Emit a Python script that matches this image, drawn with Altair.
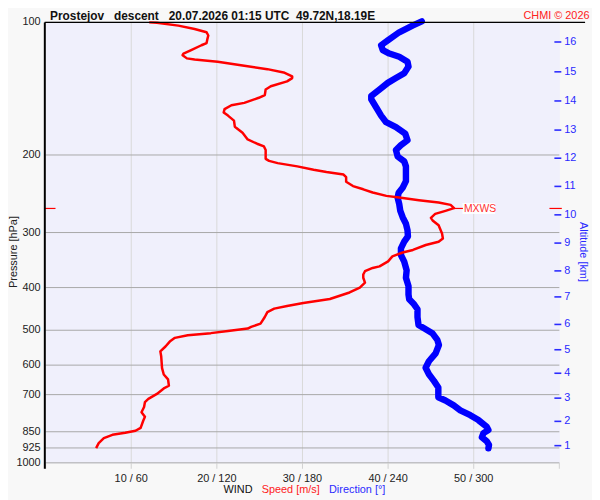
import altair as alt
import pandas as pd

FONT = "Liberation Sans"

# ---- wind speed profile (m/s) against pressure (hPa)
speed_p = [100, 100.2, 101.7, 103.5, 105.3, 107.1, 109.0, 111.4, 112.7, 115.6,
           117.7, 118.7, 120.7, 121.4, 122.8, 125.5, 127.7, 129.9, 132.6, 133.8,
           136.1, 139.6, 142.0, 146.2, 148.3, 152.3, 154.2, 157.4, 160.1, 162.8,
           167.1, 172.5, 178.1, 184.4, 188.6, 191.3, 194.9, 204.1, 206.3, 208.7,
           212.3, 216.0, 218.6, 221.6, 224.6, 230.1, 235.3, 239.3, 243.4, 247.7,
           249.8, 253.3, 256.4, 259.6, 264.1, 267.8, 272.2, 277.8, 281.6, 288.9,
           301.6, 309.4, 314.7, 320.2, 328.6, 333.0, 339.9, 348.8, 358.0, 361.0,
           367.2, 373.7, 380.0, 389.9, 400.0, 410.4, 424.7, 433.5, 440.6, 446.6,
           454.8, 466.6, 483.0, 491.2, 495.5, 502.0, 507.6, 513.4, 520.3, 530.5,
           544.3, 558.4, 573.0, 609.3, 630.0, 646.4, 668.3, 677.7, 697.4, 715.7,
           728.1, 747.0, 767.6, 786.2, 802.6, 832.8, 845.7, 854.5, 863.8, 878.6,
           901.8, 926]
speed_ms = [12.1, 13.0, 15.5, 17.4, 18.8, 19.0, 18.9, 18.8, 18.2, 17.0,
            16.1, 16.0, 16.5, 17.4, 20.1, 23.2, 25.9, 27.8, 28.8, 28.8,
            28.2, 26.3, 25.7, 25.6, 24.9, 23.2, 21.7, 20.9, 20.8, 21.3,
            22.0, 22.1, 23.0, 23.6, 24.7, 25.5, 25.7, 25.7, 26.1, 27.1,
            29.4, 31.3, 32.8, 34.8, 35.1, 35.1, 35.9, 37.1, 38.2, 39.8,
            41.3, 43.6, 45.9, 47.3, 47.7, 46.7, 45.5, 45.0, 45.2, 45.9,
            46.3, 46.4, 45.9, 44.4, 42.9, 41.7, 40.5, 40.0, 39.0, 38.2,
            37.3, 37.1, 37.1, 37.3, 36.7, 35.5, 33.2, 30.1, 28.2, 26.7,
            25.9, 25.6, 25.1, 24.0, 23.6, 21.3, 19.3, 16.6, 15.1, 14.5,
            14.0, 13.4, 13.5, 13.6, 13.8, 14.3, 14.4, 13.8, 13.0, 12.0,
            11.6, 11.5, 11.2, 11.6, 11.4, 11.1, 10.5, 9.3, 7.8, 6.8,
            6.2, 5.9]

# ---- wind direction profile (deg) against pressure (hPa)
dir_p = [99.5, 101.7, 105.3, 109.9, 112.7, 115.6, 117.7, 119.7, 122.8, 126.0,
         130.4, 133.8, 137.2, 142.0, 147.0, 149.5, 156.0, 162.8, 168.5, 172.9,
         178.9, 185.2, 190.0, 194.9, 201.6, 206.8, 212.3, 219.6, 229.3, 237.3,
         243.6, 250.1, 258.5, 267.5, 276.9, 286.5, 296.3, 306.0, 314.7, 325.8,
         337.4, 349.4, 365.4, 380.0, 397.0, 414.6, 425.4, 436.6, 448.0, 466.6,
         486.3, 494.6, 507.6, 525.6, 540.0, 564.4, 587.9, 608.3, 629.2, 651.4,
         674.2, 709.7, 721.8, 740.5, 759.8, 779.5, 799.8, 828.0, 841.9, 856.0,
         875.0, 893.0, 911.0, 927.0]
dir_deg = [263.6, 257.1, 247.8, 239.8, 235.1, 236.3, 240.9, 247.8, 253.6, 254.3,
           251.3, 245.5, 239.8, 234.0, 228.2, 228.2, 231.7, 235.1, 238.6, 245.5,
           252.0, 253.6, 249.0, 245.5, 246.7, 251.3, 252.5, 252.5, 252.5, 250.2,
           247.4, 246.7, 247.8, 248.5, 250.2, 252.5, 253.6, 253.9, 251.3, 249.0,
           249.0, 251.3, 253.0, 252.5, 254.3, 254.3, 254.8, 258.2, 260.6, 260.6,
           261.3, 265.2, 271.0, 274.5, 275.6, 273.3, 268.6, 266.3, 268.6, 272.1,
           275.2, 275.2, 280.2, 286.0, 290.6, 297.6, 303.3, 309.1, 310.3, 306.8,
           305.7, 309.1, 310.7, 310.3]

# ---- altitude scale (km) on the right, at the pressure of each km
alt_km = [1, 2, 3, 4, 5, 6, 7, 8, 9, 10, 11, 12, 13, 14, 15, 16]
alt_p = [914, 805, 713, 626, 553.6, 485, 420, 366.6, 317, 273.5,
         235.7, 203.4, 175.6, 150.8, 129.5, 110.8]

pressure_ticks = [100, 200, 300, 400, 500, 600, 700, 850, 925, 1000]
speed_ticks = [0, 10, 20, 30, 40, 50, 60]
speed_labels = ["", "10 / 60", "20 / 120", "30 / 180", "40 / 240", "50 / 300", ""]
grid_speeds = [10, 20, 30, 40, 50]

mxws_speed = [47.7]
mxws_p = [264.5]

W, H = 519, 445

speed_df = pd.DataFrame({"p": speed_p, "v": speed_ms, "i": range(len(speed_p))})
dir_df = pd.DataFrame({"p": dir_p, "v": [d / 6 for d in dir_deg], "i": range(len(dir_p))})
alt_df = pd.DataFrame({"p": alt_p, "km": [str(k) for k in alt_km]})
mx_df = pd.DataFrame({"p": mxws_p, "v": mxws_speed})
grid_df = pd.DataFrame({"v": grid_speeds})
xt_df = pd.DataFrame({"v": speed_ticks, "lab": speed_labels})
pt_df = pd.DataFrame({"p": pressure_ticks, "lab": [str(p) for p in pressure_ticks]})
dummy = pd.DataFrame({"a": [0]})

xs = alt.Scale(domain=[0, 60], nice=False, zero=False)
ys = alt.Scale(type="log", domain=[100, 1000], reverse=True, nice=False)

RED = "#ff0000"
BLUE = "#0000ff"
LBLUE = "#2a2aff"


def X(field="v:Q"):
    return alt.X(field, scale=xs, axis=None)


def Y(field="p:Q"):
    return alt.Y(field, scale=ys, axis=None)


# grid and axes drawn as marks
grid_v = alt.Chart(grid_df).mark_rule(color="#d9d9d9", strokeWidth=1).encode(x=X())
grid_h = alt.Chart(pt_df).mark_rule(color="#a8a8a8", strokeWidth=1).encode(y=Y())
y_labels = alt.Chart(pt_df).mark_text(align="right", baseline="middle", fontSize=11, font=FONT,
                                      color="#222222").encode(
    x=alt.value(-5), y=Y(), text="lab:N")
x_ticks = alt.Chart(xt_df).mark_rule(color="#d0d0d0", strokeWidth=1).encode(
    x=X(), y=alt.value(H), y2=alt.value(H + 6))
x_labels = alt.Chart(xt_df).mark_text(align="center", baseline="top", fontSize=11, font=FONT,
                                      color="#222222").encode(
    x=X(), y=alt.value(H + 10), text="lab:N")

dir_line = alt.Chart(dir_df).mark_line(color=BLUE, strokeWidth=6.5, strokeCap="round",
                                       strokeJoin="round").encode(
    x=X(), y=Y(), order="i:Q")

speed_line = alt.Chart(speed_df).mark_line(color=RED, strokeWidth=2.5, strokeJoin="round").encode(
    x=X(), y=Y(), order="i:Q")

mx_base = alt.Chart(mx_df).encode(x=X(), y=Y())
mx_box = mx_base.mark_rect(width=33, height=11, xOffset=25, color="white", opacity=0.9)
mx_conn = mx_base.mark_rect(width=9, height=1.2, xOffset=4.5, color=RED)
mx_text = mx_base.mark_text(text="MXWS", align="left", baseline="middle", dx=10, dy=0.5,
                            fontSize=10.5, font=FONT, color="#ff3030")
mx_left = alt.Chart(mx_df).mark_rule(color=RED, strokeWidth=1.2).encode(
    x=alt.value(-1), x2=alt.value(10), y=Y())
mx_right = alt.Chart(mx_df).mark_rule(color=RED, strokeWidth=1.2).encode(
    x=alt.value(509), x2=alt.value(521.5), y=Y())

alt_ticks = alt.Chart(alt_df).mark_rule(color=LBLUE, strokeWidth=1.6).encode(
    x=alt.value(514), x2=alt.value(521), y=Y())
alt_labels = alt.Chart(alt_df).mark_text(align="left", baseline="middle", fontSize=11,
                                         font=FONT, color=LBLUE).encode(
    x=alt.value(524), y=Y(), text="km:N")

top_line = alt.Chart(dummy).mark_rule(color="black", strokeWidth=1.2).encode(
    x=alt.value(-1), x2=alt.value(545), y=alt.value(0))
left_line = alt.Chart(dummy).mark_rule(color="black", strokeWidth=2).encode(
    x=alt.value(-0.8), y=alt.value(0), y2=alt.value(H + 6))


def label(txt, x, y, **kw):
    return alt.Chart(dummy).mark_text(text=txt, font=FONT, **kw).encode(
        x=alt.value(x), y=alt.value(y))


title = label("Prostejov\u00a0\u00a0\u00a0descent\u00a0\u00a0\u00a020.07.2026 01:15 UTC\u00a0\u00a049.72N,18.19E",
              4.5, -2.5, align="left", baseline="alphabetic", fontSize=12, fontWeight="bold",
              color="#111111")
chmi = label("CHMI \u00a9 2026", 549.5, -3, align="right", baseline="alphabetic", fontSize=11,
             color="#ff2020")
ptitle = label("Pressure [hPa]", -32, 232, align="center", baseline="middle", angle=270,
               fontSize=11, color="#222222")
atitle = label("Altitude [km]", 543, 232, align="center", baseline="middle", angle=90,
               fontSize=11, color=LBLUE)
wind = label("WIND", 179.7, H + 30, align="left", baseline="alphabetic", fontSize=11,
             color="#111111")
spd = label("Speed [m/s]", 218.3, H + 30, align="left", baseline="alphabetic", fontSize=11,
            color="#ff2020")
drc = label("Direction [\u00b0]", 286.3, H + 30, align="left", baseline="alphabetic", fontSize=11,
            color=LBLUE)

chart = alt.layer(
    grid_v, grid_h, x_ticks, x_labels, y_labels,
    dir_line, speed_line, mx_box, mx_conn, mx_text, mx_left, mx_right,
    alt_ticks, alt_labels, top_line, left_line, title, chmi, ptitle, atitle, wind, spd, drc,
).properties(
    width=W, height=H,
    padding={"left": 38, "top": 12, "right": 33, "bottom": 35},
    autosize=alt.AutoSizeParams(type="none"),
    background="#f8f8f8",
).configure_view(fill="#f0f0fc", stroke="transparent")

chart.save("out.html", embed_options={"renderer": "svg", "actions": False})
